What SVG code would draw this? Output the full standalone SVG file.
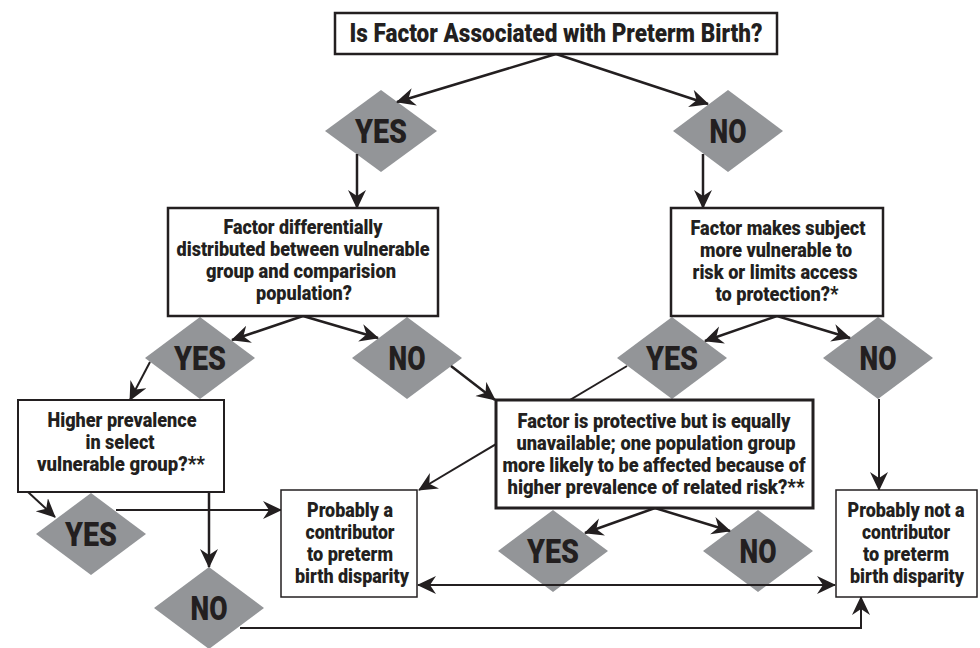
<svg xmlns="http://www.w3.org/2000/svg" width="980" height="648" viewBox="0 0 980 648">
<style>
.t{font-family:Roboto,"DejaVu Sans Condensed","Liberation Sans",Arial,sans-serif;font-weight:900;fill:#231f20;text-anchor:middle}
.b{font-size:20.5px}
.b2{font-size:20px}
.d{font-size:33px}
.dia{fill:#939598}
.box{fill:#fff;stroke:#231f20}
.ca{fill:none;stroke:#231f20;stroke-width:2.5;marker-end:url(#ah)}
</style>
<defs>
<marker id="ah" markerUnits="userSpaceOnUse" markerWidth="22" markerHeight="20" refX="18" refY="9" orient="auto-start-reverse">
<path d="M0,0 L19,9 L0,18 L6,9 Z" fill="#231f20"/>
</marker>
</defs>
<g id="d-yes1"><polygon class="dia" points="325,131 381,90 437,131 381,172"/><text class="t d" x="381" y="143" textLength="52" lengthAdjust="spacingAndGlyphs">YES</text></g>
<g id="d-no1"><polygon class="dia" points="673,131 728,90 783,131 728,172"/><text class="t d" x="728" y="143" textLength="37" lengthAdjust="spacingAndGlyphs">NO</text></g>
<g id="d-yes2"><polygon class="dia" points="145,358 200,317 255,358 200,399"/><text class="t d" x="200" y="370" textLength="52" lengthAdjust="spacingAndGlyphs">YES</text></g>
<g id="d-no2"><polygon class="dia" points="352,358 407,317 462,358 407,399"/><text class="t d" x="407" y="370" textLength="37" lengthAdjust="spacingAndGlyphs">NO</text></g>
<g id="d-yes3"><polygon class="dia" points="617,358 672,317 727,358 672,399"/><text class="t d" x="672" y="370" textLength="52" lengthAdjust="spacingAndGlyphs">YES</text></g>
<g id="d-no3"><polygon class="dia" points="823,358 878,317 933,358 878,399"/><text class="t d" x="878" y="370" textLength="37" lengthAdjust="spacingAndGlyphs">NO</text></g>
<g id="d-yes4"><polygon class="dia" points="36,534 91,493 146,534 91,575"/><text class="t d" x="91" y="546" textLength="52" lengthAdjust="spacingAndGlyphs">YES</text></g>
<g id="d-no4"><polygon class="dia" points="154,608 209,567 264,608 209,649"/><text class="t d" x="209" y="620" textLength="37" lengthAdjust="spacingAndGlyphs">NO</text></g>
<g id="d-yes5"><polygon class="dia" points="498,551 553,510 608,551 553,592"/><text class="t d" x="553" y="563" textLength="52" lengthAdjust="spacingAndGlyphs">YES</text></g>
<g id="d-no5"><polygon class="dia" points="703,551 758,510 813,551 758,592"/><text class="t d" x="758" y="563" textLength="37" lengthAdjust="spacingAndGlyphs">NO</text></g>
<g id="connectors">
<line class="ca" x1="556" y1="54" x2="397" y2="102"/>
<line class="ca" x1="556" y1="54" x2="708" y2="104"/>
<line class="ca" x1="357" y1="154" x2="357" y2="208"/>
<line class="ca" x1="703" y1="154" x2="703" y2="208"/>
<line class="ca" x1="303" y1="316" x2="232" y2="340"/>
<line class="ca" x1="303" y1="316" x2="378" y2="338"/>
<line class="ca" x1="777" y1="316" x2="705" y2="341"/>
<line class="ca" x1="777" y1="316" x2="850" y2="338"/>
<line class="ca" x1="150" y1="362" x2="130" y2="400" style="stroke-width:2"/>
<line class="ca" x1="451" y1="366" x2="495" y2="400"/>
<line class="ca" x1="627" y1="366" x2="419" y2="490" style="stroke-width:2"/>
<line class="ca" x1="879" y1="399" x2="879" y2="490" style="stroke-width:2"/>
<line class="ca" x1="28" y1="492" x2="55" y2="517" style="stroke-width:2"/>
<line class="ca" x1="209" y1="492" x2="209" y2="567"/>
<line class="ca" x1="116" y1="510" x2="281" y2="510" style="stroke-width:2"/>
<line class="ca" x1="655" y1="508" x2="585" y2="533"/>
<line class="ca" x1="655" y1="508" x2="730" y2="531"/>
<line class="ca" x1="418" y1="585" x2="835" y2="585" style="stroke-width:2;marker-start:url(#ah)"/>
<polyline class="ca" points="240,628 861,628 861,597" style="stroke-width:2"/>
</g>
<g id="n-top"><rect class="box" x="335" y="13" width="442" height="41" stroke-width="2.5"/><text class="t" x="556" y="42" font-size="25" textLength="413" lengthAdjust="spacingAndGlyphs">Is Factor Associated with Preterm Birth?</text></g>
<g id="n-diff"><rect class="box" x="168" y="208" width="270" height="108" stroke-width="2.5"/>
<text class="t b2" x="303" y="234" textLength="159" lengthAdjust="spacingAndGlyphs">Factor differentially</text>
<text class="t b2" x="303" y="256" textLength="253" lengthAdjust="spacingAndGlyphs">distributed between vulnerable</text>
<text class="t b2" x="301" y="278" textLength="190" lengthAdjust="spacingAndGlyphs">group and comparision</text>
<text class="t b2" x="304" y="300" textLength="96" lengthAdjust="spacingAndGlyphs">population?</text></g>
<g id="n-vuln"><rect class="box" x="671" y="208" width="212" height="108" stroke-width="2.5"/>
<text class="t b" x="778" y="235" textLength="175" lengthAdjust="spacingAndGlyphs">Factor makes subject</text>
<text class="t b" x="776" y="257" textLength="152" lengthAdjust="spacingAndGlyphs">more vulnerable to</text>
<text class="t b" x="775" y="279" textLength="165" lengthAdjust="spacingAndGlyphs">risk or limits access</text>
<text class="t b" x="777" y="301" textLength="123" lengthAdjust="spacingAndGlyphs">to protection?*</text></g>
<g id="n-higher"><rect class="box" x="18" y="400" width="206" height="92" stroke-width="2"/>
<text class="t b" x="122" y="427" textLength="149" lengthAdjust="spacingAndGlyphs">Higher prevalence</text>
<text class="t b" x="120" y="449" textLength="69" lengthAdjust="spacingAndGlyphs">in select</text>
<text class="t b" x="121" y="471" textLength="168" lengthAdjust="spacingAndGlyphs">vulnerable group?**</text></g>
<g id="n-protect"><rect class="box" x="496" y="400" width="317" height="108" stroke-width="3"/>
<text class="t b" x="654" y="428" textLength="273" lengthAdjust="spacingAndGlyphs">Factor is protective but is equally</text>
<text class="t b" x="656" y="450" textLength="279" lengthAdjust="spacingAndGlyphs">unavailable; one population group</text>
<text class="t b" x="654" y="472" textLength="303" lengthAdjust="spacingAndGlyphs">more likely to be affected because of</text>
<text class="t b" x="656" y="494" textLength="297" lengthAdjust="spacingAndGlyphs">higher prevalence of related risk?**</text></g>
<g id="n-contrib"><rect class="box" x="281" y="490" width="136" height="107" stroke-width="1.5"/>
<text class="t b" x="350" y="517" textLength="86" lengthAdjust="spacingAndGlyphs">Probably a</text>
<text class="t b" x="350" y="539" textLength="89" lengthAdjust="spacingAndGlyphs">contributor</text>
<text class="t b" x="350" y="561" textLength="86" lengthAdjust="spacingAndGlyphs">to preterm</text>
<text class="t b" x="352" y="583" textLength="114" lengthAdjust="spacingAndGlyphs">birth disparity</text></g>
<g id="n-notcontrib"><rect class="box" x="836" y="490" width="141" height="107" stroke-width="1.5"/>
<text class="t b" x="906" y="517" textLength="117" lengthAdjust="spacingAndGlyphs">Probably not a</text>
<text class="t b" x="906" y="539" textLength="88" lengthAdjust="spacingAndGlyphs">contributor</text>
<text class="t b" x="906" y="561" textLength="86" lengthAdjust="spacingAndGlyphs">to preterm</text>
<text class="t b" x="907" y="583" textLength="114" lengthAdjust="spacingAndGlyphs">birth disparity</text></g>
</svg>
